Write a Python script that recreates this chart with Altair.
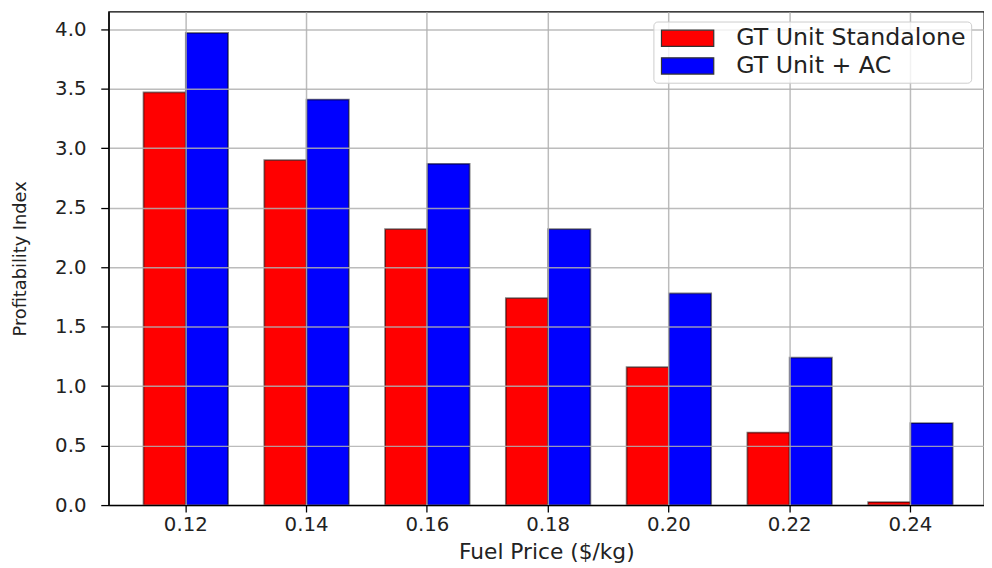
import altair as alt
import pandas as pd

prices = ["0.12", "0.14", "0.16", "0.18", "0.20", "0.22", "0.24"]
series = ["GT Unit Standalone", "GT Unit + AC"]
standalone = [3.47, 2.90, 2.32, 1.74, 1.16, 0.61, 0.025]
with_ac = [3.97, 3.41, 2.87, 2.32, 1.78, 1.24, 0.69]
y_ticks = [0.0, 0.5, 1.0, 1.5, 2.0, 2.5, 3.0, 3.5, 4.0]
colors = ["#ff0000", "#0000ff"]

rows = []
for p, a, b in zip(prices, standalone, with_ac):
    rows.append({"price": p, "series": series[0], "value": a})
    rows.append({"price": p, "series": series[1], "value": b})
df = pd.DataFrame(rows)

FONT = "DejaVu Sans"

chart = (
    alt.Chart(df)
    .mark_bar(stroke="black", strokeOpacity=0.5, strokeWidth=1.8)
    .encode(
        x=alt.X(
            "price:N",
            sort=prices,
            scale=alt.Scale(paddingInner=0.3, paddingOuter=0.274, align=0.527),
            axis=alt.Axis(
                title="Fuel Price ($/kg)",
                labelAngle=0,
                tickSize=7,
                labelPadding=3,
                titlePadding=7,
                titleFontSize=22,
                labelFontSize=20,
                grid=True,
                tickBand="center",
                zindex=1,
            ),
        ),
        xOffset=alt.XOffset(
            "series:N", sort=series, scale=alt.Scale(paddingInner=0, paddingOuter=0)
        ),
        y=alt.Y(
            "value:Q",
            scale=alt.Scale(domain=[0, 4.149], nice=False, zero=True),
            axis=alt.Axis(
                title="Profitability Index",
                values=y_ticks,
                format=".1f",
                tickSize=8,
                labelPadding=15,
                titlePadding=25,
                titleFontSize=18,
                labelFontSize=20,
                grid=True,
                zindex=1,
            ),
        ),
        color=alt.Color(
            "series:N",
            sort=series,
            scale=alt.Scale(domain=series, range=colors),
            legend=alt.Legend(
                title=None,
                orient="none",
                legendX=552,
                legendY=10,
                symbolType="M-1,-0.934H5V0.934H-1Z",
                symbolSize=312,
                symbolStrokeColor="#333333",
                symbolStrokeWidth=1.2,
                labelFontSize=24,
                labelFont=FONT,
                labelColor="#222222",
                labelOffset=55,
                labelLimit=400,
                rowPadding=4,
                padding=5,
                strokeColor="#cccccc",
                fillColor="rgba(255,255,255,0.8)",
                cornerRadius=4,
                zindex=2,
            ),
        ),
    )
    .properties(
        width=887,
        height=500,
        padding={"left": 4, "top": 0, "right": 0, "bottom": 0},
    )
    .configure(font=FONT)
    .configure_view(stroke="black", strokeWidth=1.3)
    .configure_axis(
        labelFont=FONT,
        titleFont=FONT,
        labelColor="#222222",
        titleColor="#222222",
        titleFontWeight="normal",
        domainColor="black",
        domainWidth=1.3,
        tickColor="black",
        tickWidth=1.3,
        gridColor="#b0b0b0",
        gridWidth=1.5,
        gridOpacity=0.85,
    )
)

chart.save("out.html", embed_options={"renderer": "svg", "actions": False})
